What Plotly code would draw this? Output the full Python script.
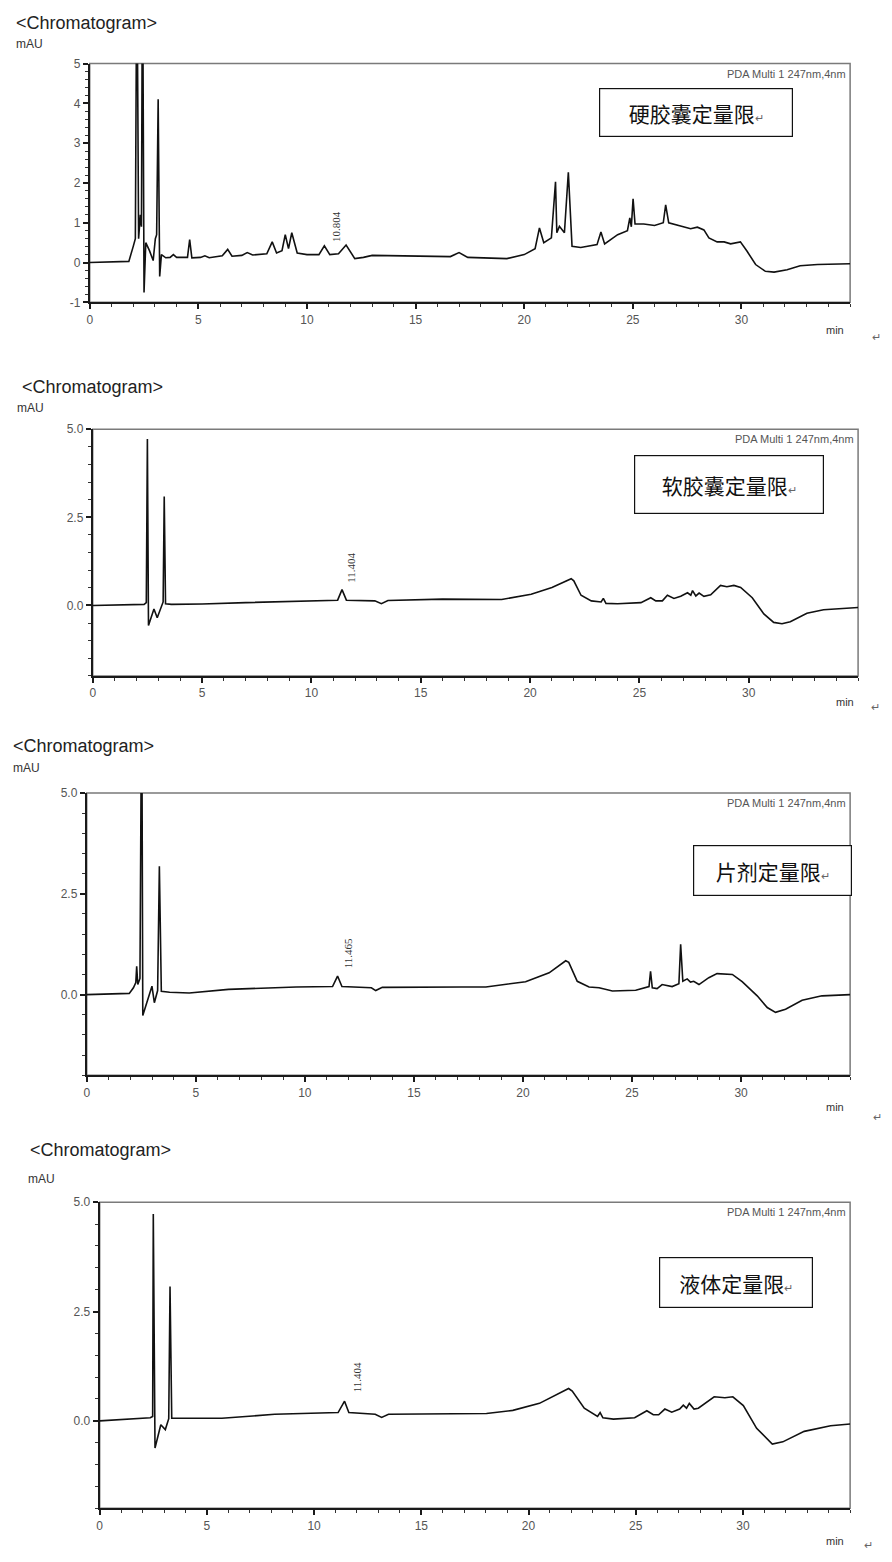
import plotly.graph_objects as go

W, H = 892, 1562
PAGE_PAD = 8            # default body margin of the html page
FW, FH = W - 2 * PAGE_PAD, H - 2 * PAGE_PAD

# ---------------- data (time in min, absorbance in mAU) ----------------
t1 = [0, 1.8, 2.0, 2.1, 2.17, 2.25, 2.33, 2.38, 2.43, 2.5, 2.58, 2.75, 2.92, 3.02, 3.08, 3.15, 3.22, 3.3,
      3.5, 3.7, 3.85, 4.0, 4.5, 4.6, 4.7, 5.1, 5.3, 5.5, 6.1, 6.35, 6.55, 7.0, 7.25, 7.5, 8.15, 8.4, 8.6,
      8.85, 9.0, 9.15, 9.3, 9.55, 10.0, 10.55, 10.8, 11.05, 11.45, 11.8, 12.2, 12.6, 13.0, 16.6, 17.0,
      17.4, 19.2, 20.0, 20.5, 20.7, 20.9, 21.25, 21.44, 21.5, 21.62, 21.85, 22.03, 22.2, 22.6, 23.35,
      23.53, 23.7, 24.3, 24.75, 24.86, 24.93, 25.01, 25.1, 25.5, 26.0, 26.4, 26.51, 26.65, 27.2, 27.66,
      27.97, 28.27, 28.5, 28.88, 29.2, 29.5, 29.95, 30.25, 30.65, 31.1, 31.5, 32.1, 32.7, 33.5, 35.0]
a1 = [0.0, 0.03, 0.4, 0.6, 8, 0.6, 1.2, 0.9, 8, -0.75, 0.5, 0.3, 0.05, 0.6, 0.7, 4.1, -0.35, 0.2,
      0.12, 0.13, 0.2, 0.13, 0.13, 0.58, 0.12, 0.13, 0.17, 0.12, 0.17, 0.33, 0.16, 0.18, 0.25, 0.19,
      0.22, 0.52, 0.24, 0.3, 0.7, 0.35, 0.75, 0.24, 0.2, 0.2, 0.42, 0.2, 0.22, 0.44, 0.1, 0.13, 0.18,
      0.15, 0.25, 0.13, 0.1, 0.2, 0.35, 0.87, 0.5, 0.62, 2.03, 0.75, 0.91, 0.75, 2.27, 0.41, 0.38, 0.45,
      0.77, 0.47, 0.7, 0.8, 1.12, 0.9, 1.6, 0.97, 0.97, 0.93, 1.0, 1.45, 1.0, 0.91, 0.85, 0.89, 0.82,
      0.62, 0.52, 0.52, 0.47, 0.52, 0.29, -0.05, -0.22, -0.24, -0.18, -0.08, -0.05, -0.03]

t2 = [0, 2.35, 2.45, 2.5, 2.55, 2.8, 2.95, 3.15, 3.22, 3.27, 3.33, 3.6, 5.0, 7.0, 10.0, 11.2, 11.4, 11.6,
      12.9, 13.2, 13.5, 16.0, 18.7, 20.05, 21.0, 21.88, 22.0, 22.33, 22.8, 23.25, 23.35, 23.47, 24.0,
      25.07, 25.52, 25.75, 26.05, 26.28, 26.58, 26.89, 27.2, 27.35, 27.43, 27.58, 27.73, 27.95, 28.26,
      28.71, 29.0, 29.32, 29.63, 30.16, 30.69, 31.14, 31.52, 31.9, 32.66, 33.42, 35.0]
a2 = [0.0, 0.03, 0.08, 4.72, -0.57, -0.1, -0.35, 0.02, 0.1, 3.09, 0.05, 0.03, 0.04, 0.08, 0.14, 0.15,
      0.45, 0.15, 0.13, 0.05, 0.14, 0.18, 0.17, 0.32, 0.51, 0.76, 0.7, 0.29, 0.13, 0.1, 0.2, 0.06, 0.05,
      0.08, 0.22, 0.13, 0.13, 0.29, 0.2, 0.26, 0.36, 0.29, 0.42, 0.27, 0.35, 0.26, 0.3, 0.57, 0.53, 0.57,
      0.51, 0.22, -0.24, -0.48, -0.52, -0.46, -0.22, -0.12, -0.06]

t3 = [0, 1.95, 2.14, 2.25, 2.29, 2.34, 2.44, 2.52, 2.57, 2.79, 2.99, 3.1, 3.25, 3.33, 3.42, 3.8, 4.7, 6.5,
      9.6, 11.27, 11.5, 11.7, 13.05, 13.25, 13.55, 17.2, 18.3, 20.12, 21.2, 21.96, 22.1, 22.49, 23.03,
      23.49, 24.1, 25.17, 25.78, 25.85, 25.93, 26.15, 26.38, 26.84, 27.15, 27.23, 27.33, 27.53, 27.68,
      27.83, 28.07, 28.52, 28.9, 29.6, 30.05, 30.74, 31.2, 31.58, 32.04, 32.8, 33.71, 35.0]
a3 = [0.0, 0.03, 0.17, 0.3, 0.7, 0.25, 0.4, 8, -0.52, -0.15, 0.21, -0.2, 0.1, 3.18, 0.08, 0.06, 0.04,
      0.13, 0.19, 0.2, 0.46, 0.2, 0.17, 0.1, 0.18, 0.19, 0.19, 0.32, 0.54, 0.84, 0.8, 0.33, 0.19, 0.17,
      0.09, 0.11, 0.2, 0.58, 0.17, 0.15, 0.25, 0.2, 0.27, 1.25, 0.33, 0.39, 0.31, 0.33, 0.25, 0.42, 0.52,
      0.5, 0.32, -0.03, -0.32, -0.44, -0.36, -0.14, -0.03, 0.0]

t4 = [0, 2.36, 2.47, 2.5, 2.58, 2.85, 3.06, 3.22, 3.28, 3.36, 5.7, 8.16, 11.12, 11.42, 11.62, 12.85,
      13.15, 13.47, 18.04, 19.27, 20.51, 21.87, 22.04, 22.6, 23.22, 23.34, 23.47, 23.96, 24.95, 25.52,
      25.82, 26.07, 26.36, 26.68, 27.05, 27.22, 27.37, 27.5, 27.72, 27.92, 28.66, 29.16, 29.53, 30.02,
      30.64, 31.37, 31.86, 32.86, 34.09, 35.0]
a4 = [0.0, 0.07, 0.1, 4.73, -0.62, -0.09, -0.2, 0.05, 3.07, 0.06, 0.06, 0.15, 0.19, 0.45, 0.19, 0.15,
      0.08, 0.15, 0.17, 0.24, 0.4, 0.74, 0.68, 0.29, 0.1, 0.19, 0.07, 0.04, 0.07, 0.23, 0.14, 0.14, 0.27,
      0.2, 0.27, 0.36, 0.29, 0.4, 0.27, 0.29, 0.55, 0.53, 0.55, 0.35, -0.17, -0.53, -0.48, -0.24, -0.11,
      -0.07]

sample_labels = ["硬胶囊定量限", "软胶囊定量限", "片剂定量限", "液体定量限"]
peak_labels = ["10.804", "11.404", "11.465", "11.404"]
x_ticks = [0, 5, 10, 15, 20, 25, 30]
y_ticks_1 = [-1, 0, 1, 2, 3, 4, 5]
y_ticks_n = [0.0, 2.5, 5.0]
detector = "PDA Multi 1 247nm,4nm"

# ---------------- layout geometry (page pixels) ----------------
panels = [
    dict(t=t1, a=a1, x0=87, x1=850, y0=57, y1=298, yr=[-1, 5], yt=y_ticks_1, yfmt="d", ymin=0.2,
         title=(11, 16), mau=(11, 37), minp=(835, 326), ret=(876, 333),
         box=(598, 792, 82, 131), plab=(334, 221)),
    dict(t=t2, a=a2, x0=90, x1=858, y0=426, y1=675, yr=[-2, 5], yt=y_ticks_n, yfmt=".1f", ymin=0.5,
         title=(17, 383), mau=(12, 405), minp=(845, 701), ret=(875, 706),
         box=(633, 823, 452, 511), plab=(349, 566)),
    dict(t=t3, a=a3, x0=84, x1=850, y0=793, y1=1078, yr=[-2, 5], yt=y_ticks_n, yfmt=".1f", ymin=0.5,
         title=(8, 746), mau=(8, 768), minp=(835, 1110), ret=(877, 1120),
         box=(693, 852, 846, 897), plab=(347, 955)),
    dict(t=t4, a=a4, x0=97, x1=850, y0=1206, y1=1515, yr=[-2, 5], yt=y_ticks_n, yfmt=".1f", ymin=0.5,
         title=(25, 1153), mau=(23, 1183), minp=(835, 1548), ret=(868, 1552),
         box=(658, 812, 1262, 1313), plab=(355, 1383)),
]


def px(p):
    return (p - PAGE_PAD) / FW


def py(p):
    return 1 - (p - PAGE_PAD) / FH


fig = go.Figure()
annotations = []
shapes = []
SANS = "Liberation Sans, Arial, sans-serif"

for i, p in enumerate(panels):
    n = "" if i == 0 else str(i + 1)
    fig.add_trace(go.Scatter(x=p["t"], y=p["a"], mode="lines",
                             line=dict(color="#111111", width=1.6),
                             xaxis="x" + n, yaxis="y" + n, showlegend=False,
                             hoverinfo="skip"))
    fig.layout["xaxis" + n] = dict(
        domain=[px(p["x0"]), px(p["x1"])], range=[0, 35], anchor="y" + n,
        showline=True, linecolor="#1a1a1a", linewidth=2, mirror=False,
        ticks="outside", ticklen=5, tickwidth=1.5, tickcolor="#1a1a1a",
        tickmode="array", tickvals=x_ticks, ticktext=[str(v) for v in x_ticks],
        minor=dict(ticks="outside", ticklen=3, tickwidth=1.2, tickcolor="#333333",
                   tickmode="linear", tick0=0, dtick=1, showgrid=False),
        showgrid=False, zeroline=False,
        tickfont=dict(family=SANS, size=12, color="#555555"))
    fig.layout["yaxis" + n] = dict(
        domain=[py(p["y1"]), py(p["y0"])], range=p["yr"], anchor="x" + n,
        showline=True, linecolor="#1a1a1a", linewidth=2, mirror=False,
        ticks="outside", ticklen=5, tickwidth=1.5, tickcolor="#1a1a1a",
        tickmode="array", tickvals=p["yt"],
        ticktext=[format(v, p["yfmt"]) if p["yfmt"] != "d" else str(int(v)) for v in p["yt"]],
        minor=dict(ticks="outside", ticklen=3, tickwidth=1.2, tickcolor="#333333",
                   tickmode="linear", tick0=0, dtick=p["ymin"], showgrid=False),
        showgrid=False, zeroline=False,
        tickfont=dict(family=SANS, size=12, color="#555555"))

    # frame (top & right)
    shapes.append(dict(type="rect", xref="paper", yref="paper",
                       x0=px(p["x0"]), x1=px(p["x1"]), y0=py(p["y1"]), y1=py(p["y0"]),
                       line=dict(color="#7a7a7a", width=1.5), layer="below"))

    # header texts
    annotations.append(dict(text="&lt;Chromatogram&gt;", x=px(p["title"][0]), y=py(p["title"][1]),
                            xref="paper", yref="paper", xanchor="left", yanchor="middle",
                            showarrow=False, font=dict(family=SANS, size=18, color="#222222")))
    annotations.append(dict(text="mAU", x=px(p["mau"][0]), y=py(p["mau"][1]),
                            xref="paper", yref="paper", xanchor="left", yanchor="middle",
                            showarrow=False, font=dict(family=SANS, size=12, color="#333333")))
    annotations.append(dict(text="min", x=px(p["minp"][0]), y=py(p["minp"][1]),
                            xref="paper", yref="paper", xanchor="center", yanchor="middle",
                            showarrow=False, font=dict(family=SANS, size=11, color="#333333")))
    annotations.append(dict(text="↵", x=px(p["ret"][0]), y=py(p["ret"][1]),
                            xref="paper", yref="paper", xanchor="center", yanchor="middle",
                            showarrow=False, font=dict(family=SANS, size=11, color="#666666")))
    annotations.append(dict(text=detector, x=px(p["x1"] - 2), y=py(p["y0"] + 2),
                            xref="paper", yref="paper", xanchor="right", yanchor="top",
                            showarrow=False, font=dict(family=SANS, size=11, color="#555555")))
    # sample label box
    bx0, bx1, by0, by1 = p["box"]
    annotations.append(dict(
        text=sample_labels[i] + "<span style='font-size:11px;color:#666666'>↵</span>",
        x=px((bx0 + bx1) / 2), y=py((by0 + by1) / 2), xref="paper", yref="paper",
        xanchor="center", yanchor="middle", showarrow=False,
        width=bx1 - bx0 - 2, height=by1 - by0 - 2, align="center", valign="middle",
        bgcolor="white", bordercolor="#111111", borderwidth=1.2, borderpad=0,
        font=dict(family="Noto Sans CJK SC", size=21, color="#111111")))
    # peak label
    annotations.append(dict(text=peak_labels[i], x=px(p["plab"][0]), y=py(p["plab"][1]),
                            xref="paper", yref="paper", xanchor="center", yanchor="middle",
                            textangle=-90, showarrow=False,
                            font=dict(family="Liberation Serif, serif", size=11, color="#333333")))

fig.update_layout(width=FW, height=FH, autosize=False,
                  margin=dict(l=0, r=0, t=0, b=0),
                  paper_bgcolor="white", plot_bgcolor="white",
                  annotations=annotations, shapes=shapes, showlegend=False)

fig.write_html("out.html")
